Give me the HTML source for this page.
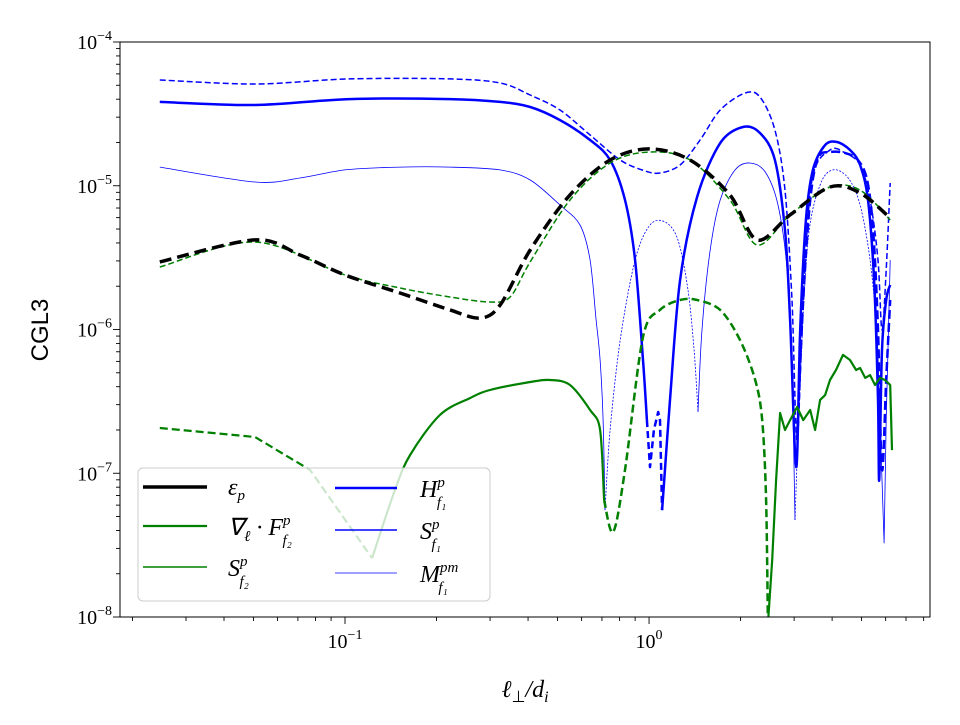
<!DOCTYPE html>
<html><head><meta charset="utf-8"><style>
body{margin:0;background:#fff;}
svg text{font-family:"Liberation Serif",serif;}
</style></head><body>
<svg id="chart" width="960" height="720" viewBox="0 0 960 720" xmlns="http://www.w3.org/2000/svg">
<defs><clipPath id="pc"><rect x="120" y="42" width="810" height="575"/></clipPath></defs>
<rect x="0" y="0" width="960" height="720" fill="#fff"/>
<g id="series" clip-path="url(#pc)"></g>
<rect x="120" y="42" width="810" height="575" fill="none" stroke="#000" stroke-width="1"/>
<g id="axes"></g>
<text x="525" y="697" font-size="24" text-anchor="middle" font-style="italic">ℓ<tspan font-size="16" dy="5" font-style="normal">⊥</tspan><tspan dy="-5">/d</tspan><tspan font-size="16" dy="5">i</tspan></text>
<text transform="translate(48,330) rotate(-90)" font-size="24" text-anchor="middle" style="font-family:'Liberation Sans',sans-serif">CGL3</text>
<g id="legend">
<rect x="138" y="468" width="352" height="133" rx="5" fill="#fff" fill-opacity="0.8" stroke="#ccc" stroke-width="1"/>
</g>
</svg>
<script>
// axis ranges (log10)
const xLogMin=-1.740, xLogMax=0.924, yLogMin=-8, yLogMax=-4;
const yTickExps=[-8,-7,-6,-5,-4];
const xTickExps=[-1,0];

// eps_p
const epsLogL=[-1.609,-1.296,-1.148,-1.0,-0.819,-0.655,-0.556,-0.490,-0.391,-0.260,-0.128,0,0.135,0.266,0.355,0.464,0.595,0.694,0.793];
const epsLogY=[-5.530,-5.377,-5.482,-5.621,-5.746,-5.864,-5.920,-5.830,-5.447,-5.064,-4.821,-4.744,-4.821,-5.064,-5.377,-5.203,-5.009,-5.050,-5.224];
// S_f2
const sf2LogL=[-1.609,-1.296,-1.0,-0.819,-0.655,-0.523,-0.457,-0.391,-0.260,-0.128,0,0.135,0.266,0.355,0.464,0.595,0.694,0.793];
const sf2LogY=[-5.565,-5.391,-5.621,-5.711,-5.774,-5.809,-5.774,-5.530,-5.099,-4.842,-4.765,-4.821,-5.099,-5.412,-5.203,-5.009,-5.030,-5.238];
// div F
const divA_L=[-1.609,-1.296,-1.115,-0.911];
const divA_Y=[-6.685,-6.748,-6.977,-7.590];
const divB_L=[-0.911,-0.836,-0.786,-0.688,-0.589,-0.523,-0.391,-0.326,-0.260,-0.194,-0.161,-0.148];
const divB_Y=[-7.590,-7.117,-6.873,-6.595,-6.477,-6.421,-6.365,-6.351,-6.386,-6.560,-6.699,-7.186];
const divC_L=[-0.148,-0.118,-0.079,-0.020,0.036,0.102,0.158,0.234,0.299,0.349,0.372,0.385,0.391];
const divC_Y=[-7.186,-7.409,-6.977,-6.052,-5.864,-5.795,-5.795,-5.864,-6.073,-6.351,-6.630,-7.186,-8.05];
const divD_L=[0.391,0.405,0.418,0.431,0.447,0.464,0.487,0.507,0.530,0.546,0.5625,0.579,0.595,0.615,0.638,0.661,0.681,0.694,0.711,0.727,0.743,0.760,0.776,0.793,0.799];
const divD_Y=[-8.05,-7.603,-7.047,-6.581,-6.699,-6.630,-6.539,-6.630,-6.560,-6.699,-6.490,-6.456,-6.351,-6.282,-6.177,-6.212,-6.282,-6.268,-6.337,-6.317,-6.386,-6.337,-6.351,-6.386,-6.839];
// H_f1
const hS1_L=[-1.609,-1.296,-0.984,-0.655,-0.490,-0.391,-0.293,-0.194,-0.128,-0.079,-0.046,-0.020,-0.007];
const hS1_Y=[-4.417,-4.438,-4.397,-4.397,-4.417,-4.452,-4.543,-4.682,-4.821,-5.099,-5.517,-6.212,-6.630];
const hD1_L=[-0.007,0.003,0.016,0.030,0.036,0.043];
const hD1_Y=[-6.630,-6.957,-6.699,-6.574,-6.630,-7.256];
const hS2_L=[0.043,0.069,0.102,0.158,0.234,0.309,0.365,0.414,0.447,0.464,0.484,0.497,0.516,0.539,0.579,0.618,0.661,0.694,0.720,0.740,0.753,0.757,0.766,0.780,0.793];
const hS2_Y=[-7.256,-6.490,-5.656,-5.078,-4.703,-4.591,-4.633,-4.821,-5.308,-5.934,-6.957,-6.003,-5.238,-4.890,-4.717,-4.696,-4.751,-4.856,-5.099,-5.656,-6.490,-7.047,-6.143,-5.795,-5.690];
const hD2_L=[0.487,0.507,0.530,0.556,0.595,0.645,0.687,0.717,0.737,0.753,0.766,0.780,0.793];
const hD2_Y=[-6.769,-5.795,-5.099,-4.807,-4.765,-4.772,-4.821,-4.960,-5.308,-6.003,-6.977,-6.351,-5.795];
// S_f1
const sf1LogL=[-1.609,-1.296,-0.984,-0.655,-0.490,-0.391,-0.293,-0.194,-0.095,-0.013,0.036,0.102,0.168,0.234,0.316,0.365,0.414,0.447,0.470,0.487,0.507,0.536,0.595,0.645,0.694,0.727,0.753,0.766,0.780,0.793];
const sf1LogY=[-4.264,-4.292,-4.257,-4.257,-4.285,-4.369,-4.473,-4.647,-4.821,-4.897,-4.911,-4.856,-4.682,-4.473,-4.355,-4.383,-4.612,-5.030,-5.795,-6.769,-5.795,-4.960,-4.751,-4.772,-4.856,-5.099,-5.517,-6.003,-5.586,-4.981];
// M_f1
const mA_L=[-1.609,-1.296,-1.148,-1.0,-0.819,-0.655,-0.490,-0.391,-0.293,-0.227,-0.194,-0.174,-0.161,-0.151,-0.145];
const mA_Y=[-4.870,-4.974,-4.946,-4.890,-4.870,-4.870,-4.890,-4.960,-5.134,-5.273,-5.517,-5.934,-6.212,-6.630,-7.256];
const mB_L=[-0.145,-0.128,-0.095,-0.046,0.003,0.053,0.095,0.128,0.148,0.161];
const mB_Y=[-7.256,-6.699,-6.073,-5.517,-5.273,-5.252,-5.377,-5.725,-6.143,-6.574];
const mC_L=[0.161,0.174,0.201,0.234,0.283,0.332,0.382,0.424,0.454,0.470,0.480];
const mC_Y=[-6.574,-6.003,-5.447,-5.099,-4.890,-4.842,-4.904,-5.134,-5.586,-6.282,-7.325];
const mD_L=[0.480,0.497,0.523,0.5625,0.605,0.655,0.694,0.727,0.750];
const mD_Y=[-7.325,-6.351,-5.377,-4.995,-4.890,-4.946,-5.134,-5.517,-6.003];
const mE_L=[0.750,0.766,0.773,0.780,0.793];
const mE_Y=[-6.003,-7.047,-7.485,-6.630,-5.517];

const X0=120,X1=930,Y0=42,Y1=617;
function sx(l){return X0+(l-xLogMin)/(xLogMax-xLogMin)*(X1-X0);}
function sy(l){return Y1-(l-yLogMin)/(yLogMax-yLogMin)*(Y1-Y0);}
const NS='http://www.w3.org/2000/svg';
const G=document.getElementById('series');
function pathD(L,Y,smooth){
  const P=L.map((l,i)=>[sx(l),sy(Y[i])]);
  let d='M'+P[0][0].toFixed(1)+','+P[0][1].toFixed(1);
  for(let i=1;i<P.length;i++){
    if(!smooth){d+='L'+P[i][0].toFixed(1)+','+P[i][1].toFixed(1);continue;}
    const p0=P[Math.max(0,i-2)],p1=P[i-1],p2=P[i],p3=P[Math.min(P.length-1,i+1)];
    const t=0.16;
    const c1=[p1[0]+(p2[0]-p0[0])*t,p1[1]+(p2[1]-p0[1])*t];
    const c2=[p2[0]-(p3[0]-p1[0])*t,p2[1]-(p3[1]-p1[1])*t];
    d+='C'+c1[0].toFixed(1)+','+c1[1].toFixed(1)+' '+c2[0].toFixed(1)+','+c2[1].toFixed(1)+' '+p2[0].toFixed(1)+','+p2[1].toFixed(1);
  }
  return d;
}
function line(name,L,Y,color,w,dash,smooth){
  const p=document.createElementNS(NS,'path');
  p.setAttribute('d',pathD(L,Y,smooth));
  p.setAttribute('fill','none');p.setAttribute('stroke',color);p.setAttribute('stroke-width',w);
  p.setAttribute('stroke-linejoin','round');
  if(dash)p.setAttribute('stroke-dasharray',dash);
  
  
  G.appendChild(p);
}
const B='#0000ff',GR='#008000';
line('m-f1-solid-1',mA_L,mA_Y,B,0.8,null,true);
line('m-f1-dotted-1',mB_L,mB_Y,B,0.8,'2,1.5',true);
line('m-f1-solid-2',mC_L,mC_Y,B,0.8,null,true);
line('m-f1-dotted-2',mD_L,mD_Y,B,0.8,'2,1.5',true);
line('m-f1-solid-3',mE_L,mE_Y,B,0.8,null,false);
line('s-f1-line',sf1LogL,sf1LogY,B,1.5,'6,3',true);
line('h-f1-solid-1',hS1_L,hS1_Y,B,2.5,null,true);
line('h-f1-dashed-1',hD1_L,hD1_Y,B,2.5,'7,4',false);
line('h-f1-solid-2',hS2_L,hS2_Y,B,2.5,null,true);
line('h-f1-dashed-2',hD2_L,hD2_Y,B,2.5,'9,4',true);
line('s-f2-line',sf2LogL,sf2LogY,GR,1.5,'6,3',true);
line('div-f-dashed-1',divA_L,divA_Y,GR,2.2,'8,4',false);
line('div-f-solid-1',divB_L,divB_Y,GR,2.2,null,true);
line('div-f-dashed-2',divC_L,divC_Y,GR,2.5,'8,4',true);
line('div-f-solid-2',divD_L,divD_Y,GR,2.2,null,false);
line('eps-p-line',epsLogL,epsLogY,'#000',3.5,'12,6',true);

// axes ticks
const A=document.getElementById('axes');
function tk(x1,y1,x2,y2,name){const l=document.createElementNS(NS,'line');
 l.setAttribute('x1',x1);l.setAttribute('y1',y1);l.setAttribute('x2',x2);l.setAttribute('y2',y2);
 l.setAttribute('stroke','#000');l.setAttribute('stroke-width','0.9');
 
 
 A.appendChild(l);}
function lab(x,y,exp,anchor,name){const t=document.createElementNS(NS,'text');
 t.setAttribute('x',x);t.setAttribute('y',y);t.setAttribute('font-size','20');t.setAttribute('text-anchor',anchor);
 t.innerHTML='10<tspan font-size="14" dy="-9">'+(exp<0?'−'+(-exp):exp)+'</tspan>';
 
 
 A.appendChild(t);}
yTickExps.forEach(e=>{const y=sy(e);tk(113,y,120,y,'y-major-tick');lab(112,y+7,e,'end','y-tick-label');
  if(e<yLogMax){for(let m=2;m<10;m++){const yy=sy(e+Math.log10(m));tk(116,yy,120,yy,'y-minor-tick');}}});
xTickExps.forEach(e=>{const x=sx(e);tk(x,617,x,624,'x-major-tick');lab(x,648,e,'middle','x-tick-label');});
for(let e=-2;e<=0;e++){for(let m=2;m<10;m++){const l=e+Math.log10(m);if(l>xLogMin&&l<xLogMax){const x=sx(l);tk(x,617,x,621,'x-minor-tick');}}}

// legend
const LG=document.getElementById('legend');
function supsub(sym,sup,sub,subdx){return sym+'<tspan font-size="15" dy="-10">'+sup+'</tspan><tspan font-size="15" dx="'+subdx+'" dy="20">'+sub+'</tspan>';}
const entries=[
 ['legend-eps-p',143,207,487,'#000',3.5,228,495,'ε<tspan font-size="15" dy="5">p</tspan>'],
 ['legend-div-flux',143,207,526,GR,2.2,228,535,'∇<tspan font-size="15" dy="6">ℓ</tspan><tspan dy="-6"> · F</tspan><tspan font-size="15" dy="-10">p</tspan><tspan font-size="15" dx="-8" dy="20">f₂</tspan>'],
 ['legend-s-f2',143,207,567,GR,1.5,228,576,supsub('S','p','f₂',-8)],
 ['legend-h-f1',335,397,488,B,2.5,420,497,supsub('H','p','f₁',-8)],
 ['legend-s-f1',335,397,530,B,1.5,420,539,supsub('S','p','f₁',-8)],
 ['legend-m-f1',335,397,573,B,0.8,420,582,supsub('M','pm','f₁',-20)]
];
entries.forEach(en=>{
 const g=document.createElementNS(NS,'g');
 
 
 const l=document.createElementNS(NS,'line');
 l.setAttribute('x1',en[1]);l.setAttribute('x2',en[2]);l.setAttribute('y1',en[3]);l.setAttribute('y2',en[3]);
 l.setAttribute('stroke',en[4]);l.setAttribute('stroke-width',en[5]);
 g.appendChild(l);
 const t=document.createElementNS(NS,'text');
 t.setAttribute('x',en[6]);t.setAttribute('y',en[7]);t.setAttribute('font-size','24');t.setAttribute('font-style','italic');
 t.innerHTML=en[8];
 g.appendChild(t);
 LG.appendChild(g);
});
</script>
</body></html>
